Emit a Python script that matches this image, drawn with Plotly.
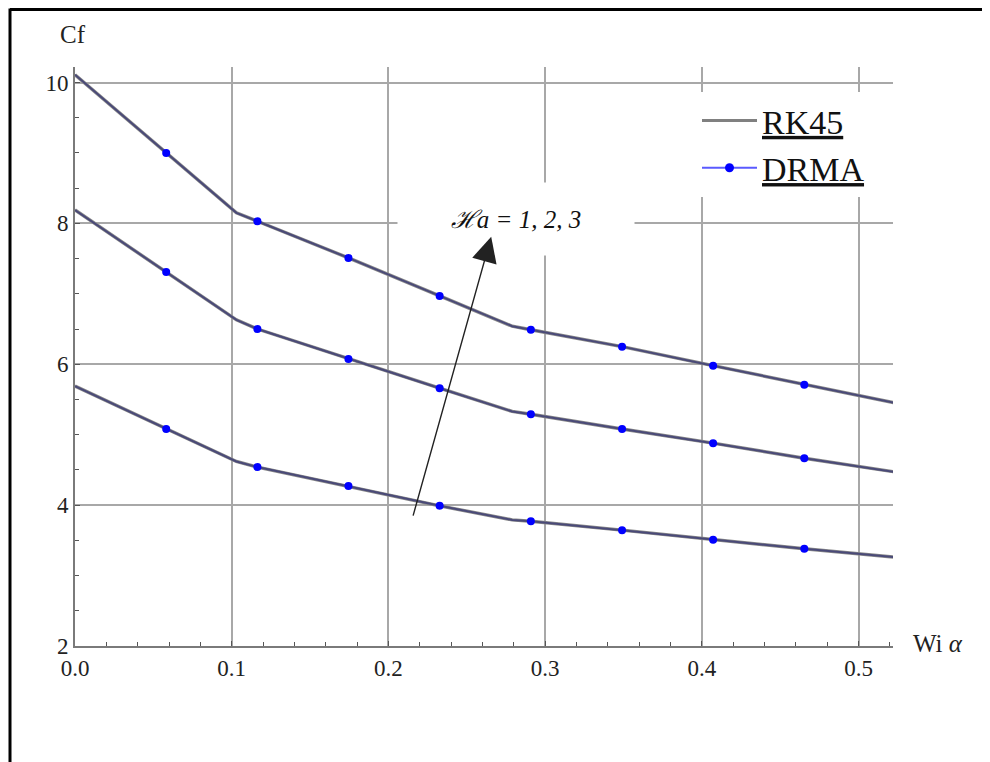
import plotly.graph_objects as go

# ---- data ----
x_line = [0.0, 0.0582, 0.103, 0.1164, 0.1745, 0.2327, 0.279, 0.2909, 0.3491, 0.4072, 0.4654, 0.5236]
rk45_ha3 = [10.11, 9.00, 8.15, 8.03, 7.51, 6.97, 6.54, 6.49, 6.25, 5.98, 5.71, 5.45]
rk45_ha2 = [8.19, 7.31, 6.63, 6.50, 6.075, 5.66, 5.33, 5.29, 5.08, 4.88, 4.665, 4.47]
rk45_ha1 = [5.69, 5.08, 4.62, 4.54, 4.27, 3.99, 3.79, 3.77, 3.645, 3.51, 3.38, 3.26]

x_drma = [0.0582, 0.1164, 0.1745, 0.2327, 0.2909, 0.3491, 0.4072, 0.4654]
drma_ha3 = [9.00, 8.03, 7.51, 6.97, 6.49, 6.25, 5.98, 5.71]
drma_ha2 = [7.31, 6.50, 6.075, 5.66, 5.29, 5.08, 4.88, 4.665]
drma_ha1 = [5.08, 4.54, 4.27, 3.99, 3.77, 3.645, 3.51, 3.38]

x_ticks = [0.0, 0.1, 0.2, 0.3, 0.4, 0.5]
x_tick_labels = ["0.0", "0.1", "0.2", "0.3", "0.4", "0.5"]
y_ticks = [2, 4, 6, 8, 10]
y_tick_labels = ["2", "4", "6", "8", "10"]

SERIF = "Liberation Serif, Times New Roman, serif"
LINE_COLOR = "#4a4a78"

fig = go.Figure()

for ys in (rk45_ha1, rk45_ha2, rk45_ha3):
    fig.add_trace(go.Scatter(x=x_line, y=ys, mode="lines",
                             line=dict(color="#8a8a8a", width=3.4),
                             showlegend=False, hoverinfo="skip"))
    fig.add_trace(go.Scatter(x=x_line, y=ys, mode="lines",
                             line=dict(color=LINE_COLOR, width=2),
                             showlegend=False, hoverinfo="skip"))

for ys in (drma_ha1, drma_ha2, drma_ha3):
    fig.add_trace(go.Scatter(x=x_drma, y=ys, mode="markers",
                             marker=dict(color="#0000ff", size=8),
                             showlegend=False))

# legend entries
fig.add_trace(go.Scatter(x=[None], y=[None], mode="lines",
                         line=dict(color="#808080", width=3),
                         name="<span style='text-decoration:underline'>RK45</span>"))
fig.add_trace(go.Scatter(x=[None], y=[None], mode="lines+markers",
                         line=dict(color="#5a5aff", width=2),
                         marker=dict(color="#0000ff", size=9),
                         name="<span style='text-decoration:underline'>DRMA</span>"))

axis_common = dict(
    showgrid=True, gridcolor="#a8a8a8", gridwidth=1.5,
    showline=True, linecolor="#7a7a7a", linewidth=2,
    ticks="inside", ticklen=5, tickcolor="#555",
    tickfont=dict(family=SERIF, size=23, color="#222"),
    zeroline=False,
)

fig.update_xaxes(range=[0, 0.522], tickvals=x_ticks, ticktext=x_tick_labels,
                 minor=dict(dtick=0.02, tick0=0, ticks="inside", ticklen=4,
                            tickcolor="#555", showgrid=False),
                 **axis_common)
fig.update_yaxes(range=[2, 10.22], tickvals=y_ticks, ticktext=y_tick_labels,
                 minor=dict(dtick=0.5, tick0=0, ticks="inside", ticklen=4,
                            tickcolor="#555", showgrid=False),
                 **axis_common)

# page is rendered with an 8px body margin; work in page pixels
OFF = 8
W, H = 982, 754
PL, PR, PT, PB = 75, 893, 67, 646  # plot area in page pixels
L, T = PL - OFF, PT - OFF
R = W - (PR - OFF)
B = H - (PB - OFF)
pw, ph = PR - PL, PB - PT

def px(xp):
    return (xp - PL) / pw

def py(yp):
    return (PB - yp) / ph

fig.update_layout(
    width=W, height=H,
    margin=dict(l=L, r=R, t=T, b=B, autoexpand=False),
    paper_bgcolor="white", plot_bgcolor="white",
    showlegend=True,
    legend=dict(x=px(697), y=py(92), xanchor="left", yanchor="top",
                bgcolor="white", font=dict(family=SERIF, size=34, color="#111"),
                itemwidth=55, borderwidth=0),
    shapes=[
        dict(type="line", xref="paper", yref="paper",
             x0=px(10), y0=py(762), x1=px(10), y1=py(8.5),
             line=dict(color="black", width=3)),
        dict(type="line", xref="paper", yref="paper",
             x0=px(10), y0=py(9.5), x1=px(990), y1=py(9.5),
             line=dict(color="black", width=3)),
    ],
    annotations=[
        dict(xref="paper", yref="paper", x=px(73), y=py(34), text="Cf",
             showarrow=False, xanchor="center", yanchor="middle",
             font=dict(family=SERIF, size=25, color="#222")),
        dict(xref="paper", yref="paper", x=px(911), y=py(643),
             text="Wi <i>α</i>", showarrow=False, xanchor="left", yanchor="middle",
             font=dict(family=SERIF, size=25, color="#222")),
        dict(xref="x", yref="y", x=0.2817, y=8.064,
             text="<i>ℋa = 1, 2, 3</i>", showarrow=False,
             bgcolor="white", borderpad=18, width=200, height=36,
             font=dict(family=SERIF, size=25, color="#111")),
        dict(xref="x", yref="y", x=0.2656, y=7.81,
             axref="x", ayref="y", ax=0.2155, ay=3.83,
             text="", showarrow=True, arrowhead=2, arrowsize=3.6,
             arrowwidth=1.4, arrowcolor="#222", standoff=0),
    ],
)

fig.write_html("out.html")
